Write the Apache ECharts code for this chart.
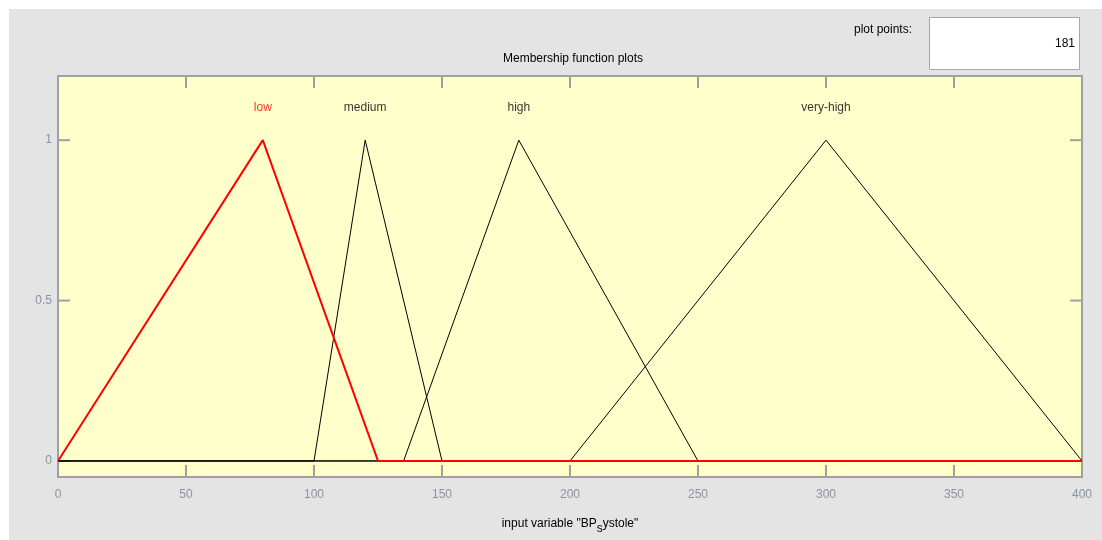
<!DOCTYPE html>
<html>
<head>
<meta charset="utf-8">
<script src="https://cdn.jsdelivr.net/npm/echarts@6/dist/echarts.min.js"></script>
<style>
html,body{margin:0;padding:0;background:#ffffff;}
#chart{width:1102px;height:540px;}
</style>
</head>
<body>
<div id="chart"></div>
<script>
// ---- data ----
const xTicks = [0, 50, 100, 150, 200, 250, 300, 350, 400];
const yTicks = [0, 0.5, 1];
const mfNames = ['low', 'medium', 'high', 'very-high'];
const lowPts = [[0, 0], [80, 1], [125, 0], [400, 0]];
const mediumPts = [[0, 0], [100, 0], [120, 1], [150, 0], [400, 0]];
const highPts = [[0, 0], [135, 0], [180, 1], [250, 0], [400, 0]];
const veryHighPts = [[0, 0], [200, 0], [300, 1], [400, 0]];
const labelX = [80, 120, 180, 300];
const labelY = 1.1;
const plotPoints = '181';
const xMin = 0, xMax = 400, yMin = -0.05, yMax = 1.2;

const chart = echarts.init(document.getElementById('chart'));
const FONT = 'Liberation Sans, Arial, sans-serif';
const tickColor = '#8a93a3';
const axisGrey = '#a0a0a0';

const labelData = mfNames.map((n, i) => ({
  value: [labelX[i], labelY],
  name: n,
  label: { color: i === 0 ? '#ff0000' : '#000000' }
}));

// inner tick marks (top, left, right) built from the tick arrays
const tickData = []
  .concat(xTicks.map(v => [v, yMax, 0]))
  .concat(yTicks.map(v => [xMin, v, 1]))
  .concat(yTicks.map(v => [xMax, v, 2]));

const option = {
  backgroundColor: '#ffffff',
  animation: false,
  graphic: [
    { type: 'rect', shape: { x: 9, y: 9, width: 1093, height: 531 }, style: { fill: '#e4e4e4' }, z: -10 },
    { type: 'rect', shape: { x: 929.5, y: 17.5, width: 150, height: 52 }, style: { fill: '#ffffff', stroke: '#a8a8a8', lineWidth: 1 }, z: 5 },
    { type: 'text', x: 1075, y: 44, style: { text: plotPoints, fill: '#000', font: '12px ' + FONT, align: 'right', verticalAlign: 'middle' }, z: 6 },
    { type: 'text', x: 912, y: 30, style: { text: 'plot points:', fill: '#000', font: '12px ' + FONT, align: 'right', verticalAlign: 'middle' }, z: 6 }
  ],
  title: {
    text: 'Membership function plots',
    left: 568, top: 48, textAlign: 'center',
    textStyle: { color: '#000', fontSize: 12, fontWeight: 'normal', fontFamily: FONT }
  },
  grid: {
    left: 58, top: 76, width: 1024, height: 403,
    show: true, backgroundColor: '#ffffcc', borderColor: axisGrey, borderWidth: 2
  },
  xAxis: {
    type: 'value', min: xMin, max: xMax, interval: 50,
    axisLine: { show: true, onZero: false, lineStyle: { color: axisGrey, width: 2 } },
    axisTick: { show: true, inside: true, length: 12, lineStyle: { color: axisGrey, width: 2 } },
    axisLabel: { color: tickColor, fontSize: 12, fontFamily: FONT, margin: 12 },
    splitLine: { show: false },
    name: '{a|input variable "BP}{s|s}{a|ystole"}',
    nameLocation: 'middle', nameGap: 36,
    nameTextStyle: {
      rich: {
        a: { color: '#000', fontSize: 12, fontFamily: FONT },
        s: { color: '#000', fontSize: 12, fontFamily: FONT, padding: [10, 0, 0, 0] }
      }
    }
  },
  yAxis: {
    type: 'value', min: yMin, max: yMax,
    axisLine: { show: true, onZero: false, lineStyle: { color: axisGrey, width: 2 } },
    axisTick: { show: false },
    axisLabel: { color: tickColor, fontSize: 12, fontFamily: FONT, margin: 6, customValues: yTicks },
    splitLine: { show: false }
  },
  series: [
    {
      name: 'ticks', type: 'custom', data: tickData, silent: true, z: 1,
      renderItem: function (params, api) {
        const kind = api.value(2);
        const p = api.coord([api.value(0), api.value(1)]);
        let q;
        if (kind === 0) q = [p[0], p[1] + 12];
        else if (kind === 1) q = [p[0] + 12, p[1]];
        else q = [p[0] - 12, p[1]];
        return {
          type: 'line',
          shape: { x1: p[0], y1: p[1], x2: q[0], y2: q[1] },
          style: { stroke: axisGrey, lineWidth: 2 }
        };
      }
    },
    { name: 'very-high', type: 'line', data: veryHighPts, symbol: 'none', lineStyle: { color: '#000', width: 1 }, z: 2 },
    { name: 'high', type: 'line', data: highPts, symbol: 'none', lineStyle: { color: '#000', width: 1 }, z: 2 },
    { name: 'medium', type: 'line', data: mediumPts, symbol: 'none', lineStyle: { color: '#000', width: 1 }, z: 2 },
    { name: 'low', type: 'line', data: lowPts, symbol: 'none', lineStyle: { color: '#ff0000', width: 2 }, z: 3 },
    {
      name: 'labels', type: 'scatter', data: labelData, symbolSize: 0, silent: true,
      label: { show: true, position: 'inside', formatter: p => p.name, fontSize: 12, fontFamily: FONT }
    }
  ]
};
chart.setOption(option);
</script>
</body>
</html>
